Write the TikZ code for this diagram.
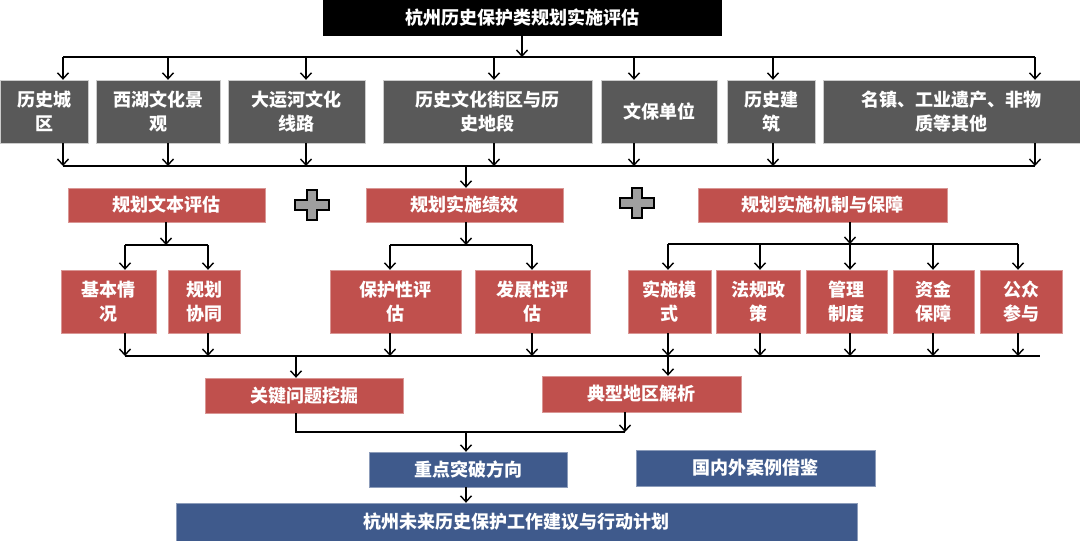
\documentclass[tikz,border=0pt]{standalone}
\usepackage{fontspec}
\newfontfamily\cjk{Noto Sans CJK SC}
\usetikzlibrary{arrows.meta}
\definecolor{boxgray}{HTML}{595959}
\definecolor{boxred}{HTML}{C0504D}
\definecolor{boxblue}{HTML}{3F5A8C}
\tikzset{
  plain/.style={inner sep=0pt, align=center, text=white,
    font=\cjk\bfseries\fontsize{18}{24}\selectfont},
  titlebox/.style={plain, fill=black},
  graybox/.style={plain, fill=boxgray, draw=gray!40},
  redbox/.style={plain, fill=boxred, draw=boxred!60},
  bluebox/.style={plain, fill=boxblue, draw=boxblue!60},
  arr/.style={line width=1.4pt, -{Straight Barb[length=6pt,width=11pt,line width=1.4pt]}},
  bus/.style={line width=1.4pt}
}
% box from its corners in pixel units
\newcommand{\pbox}[7]{\node[#1, minimum width=#5-#3, minimum height=#6-#4] (#2) at ({(#3+#5)/2},{(#4+#6)/2}) {#7};}
\begin{document}
\begin{tikzpicture}[x=1pt,y=-1pt]
\useasboundingbox (0,0) rectangle (1080,541);

\pbox{titlebox}{top}{323}{0}{722}{36}{杭州历史保护类规划实施评估}

\pbox{graybox}{g1}{0}{80}{88}{143}{历史城\\区}
\pbox{graybox}{g2}{96}{80}{220}{143}{西湖文化景\\观}
\pbox{graybox}{g3}{228}{80}{365}{143}{大运河文化\\线路}
\pbox{graybox}{g4}{383}{80}{592}{143}{历史文化街区与历\\史地段}
\pbox{graybox}{g5}{601}{80}{717}{143}{文保单位}
\pbox{graybox}{g6}{727}{80}{815}{143}{历史建\\筑}
\pbox{graybox}{g7}{823}{80}{1080}{143}{名镇、工业遗产、非物\\质等其他}

\pbox{redbox}{r1}{68}{188}{265}{222}{规划文本评估}
\pbox{redbox}{r2}{366}{188}{563}{222}{规划实施绩效}
\pbox{redbox}{r3}{698}{188}{947}{222}{规划实施机制与保障}

\pbox{redbox}{s1}{61}{270}{156}{333}{基本情\\况}
\pbox{redbox}{s2}{168}{270}{240}{333}{规划\\协同}
\pbox{redbox}{s3}{330}{270}{461}{333}{保护性评\\估}
\pbox{redbox}{s4}{475}{270}{590}{333}{发展性评\\估}
\pbox{redbox}{s5}{628}{270}{711}{333}{实施模\\式}
\pbox{redbox}{s6}{716}{270}{800}{333}{法规政\\策}
\pbox{redbox}{s7}{806}{270}{887}{333}{管理\\制度}
\pbox{redbox}{s8}{893}{270}{974}{333}{资金\\保障}
\pbox{redbox}{s9}{980}{270}{1062}{333}{公众\\参与}

\pbox{redbox}{k1}{205}{378}{403}{413}{关键问题挖掘}
\pbox{redbox}{k2}{542}{376}{741}{412}{典型地区解析}

\pbox{bluebox}{b1}{369}{452}{567}{487}{重点突破方向}
\pbox{bluebox}{b2}{636}{450}{875}{486}{国内外案例借鉴}
\pbox{bluebox}{b3}{176}{503}{857}{541}{杭州未来历史保护工作建议与行动计划}

% plus signs
\foreach \px/\py in {312/205, 637/203}
  \draw[fill=gray!75, line width=1.2pt, shift={(\px,\py)}]
    (-5,-15) -- (5,-15) -- (5,-5) -- (17,-5) -- (17,5) -- (5,5) -- (5,15)
    -- (-5,15) -- (-5,5) -- (-17,5) -- (-17,-5) -- (-5,-5) -- cycle;

% top level
\draw[arr] (top.south -| 522,0) -- (522,57);
\draw[bus] (63,57) -- (1035,57);
\foreach \n/\x in {g1/63, g2/168, g3/306, g4/494, g5/634, g6/773, g7/1035} {
  \draw[arr] (\x,57) -- (\n.north -| \x,0);
  \draw[arr] (\n.south -| \x,0) -- (\x,166);
}
\draw[bus] (63,166) -- (1035,166);
\draw[arr] (466,166) -- (r2.north -| 466,0);

% second level
\draw[arr] (r1.south -| 166,0) -- (166,245);
\draw[bus] (125,245) -- (208,245);
\draw[arr] (r2.south -| 466,0) -- (466,245);
\draw[bus] (390,245) -- (532,245);
\draw[arr] (r3.south -| 850,0) -- (850,244);
\draw[bus] (668,244) -- (1018,244);
\foreach \n/\x/\y in {s1/125/245, s2/208/245, s3/390/245, s4/532/245,
    s5/668/244, s6/760/244, s7/850/244, s8/933/244, s9/1018/244} {
  \draw[arr] (\x,\y) -- (\n.north -| \x,0);
  \draw[arr] (\n.south -| \x,0) -- (\x,356);
}
\draw[bus] (125,356) -- (1040,356);
\draw[arr] (296,356) -- (k1.north -| 296,0);
\draw[arr] (668,356) -- (k2.north -| 668,0);

% third level
\draw[bus] (k1.south -| 296,0) -- (296,432) -- (625,432);
\draw[arr] (k2.south -| 625,0) -- (625,432);
\draw[arr] (466,432) -- (b1.north -| 466,0);
\draw[arr] (b1.south -| 466,0) -- (b3.north -| 466,0);
\end{tikzpicture}
\end{document}
